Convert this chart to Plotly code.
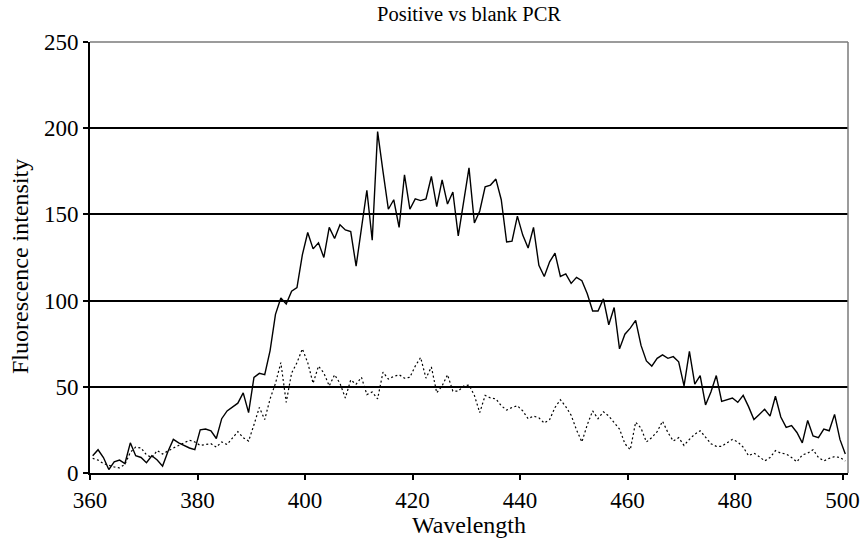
import plotly.graph_objects as go

# Wavelength grid (nm), one reading per nanometre
wavelength = [360.5 + i for i in range(141)]

# Fluorescence of the positive PCR sample
positive = [
    10, 13.5, 9, 2, 6.5, 7.5, 5.5, 17.5, 10, 9,
    6, 10, 7.5, 4, 12.5, 19.5, 17.5, 16, 14.5, 13.5,
    25, 25.5, 24.5, 20, 31.5, 36, 38.5, 40.5, 46.5, 35,
    55.5, 57.8, 57, 71, 92, 101.5, 98, 105.5, 107.5, 126.5,
    139.5, 130, 133.5, 125, 142.5, 136, 144, 141, 140, 120,
    142, 164, 135, 198, 175, 153, 158.5, 142.5, 173, 153,
    159, 158, 159, 172, 154.5, 170, 156, 163, 137.5, 157,
    177, 145, 152, 166, 167, 170.5, 158.5, 134, 134.5, 149,
    138, 130.5, 142.5, 120.5, 114, 122.5, 127.5, 114, 115.5, 110,
    113.5, 111.5, 104, 94, 94, 101, 86, 96, 72, 80.5,
    84, 88.5, 74, 65, 62, 66.5, 68.5, 66.5, 67.5, 64.5,
    50.5, 70.5, 51.5, 56.5, 39.5, 47, 56.5, 41.5, 42.5, 43.5,
    41, 45, 38.5, 31, 34, 37, 33, 44.5, 32.5, 26.5,
    27.5, 23.5, 17.5, 30.5, 21.5, 20.5, 25.5, 24.5, 34, 19.5,
    11,
]

# Fluorescence of the blank (no template) PCR
blank = [
    8.5, 7.5, 5.5, 4.5, 3.5, 3, 5, 12, 15, 14.5,
    10.5, 9, 13, 11, 13, 14.5, 16, 17.5, 19, 18,
    16, 16.5, 17, 15, 18, 16.5, 20.5, 24, 20.5, 18.5,
    28, 38, 31, 43, 52, 64, 41, 58, 64, 72,
    64, 52, 62, 58, 50.5, 57, 52, 43.5, 54, 51.5,
    55.5, 45.5, 47, 43, 58.5, 54.5, 56, 57, 55, 55.5,
    62, 67, 55, 61.5, 46.5, 50.5, 57, 47.5, 47.5, 50.5,
    51, 45, 35, 45, 43.5, 43, 39, 36.5, 38, 39,
    36, 31.5, 33, 32, 29, 31, 38, 42.5, 38.5, 33.5,
    25, 18, 28, 36, 31.5, 35.5, 33, 29, 25.5, 17,
    13.5, 29.5, 26, 18, 20.5, 24, 30, 23.5, 18.5, 20.5,
    16, 19.5, 22.5, 24.5, 21, 17, 15.5, 15.5, 17.5, 19.5,
    18, 15, 10, 11.5, 9.5, 7, 9, 13, 11.5, 11,
    9, 6.5, 10.5, 11.5, 13.5, 9, 7, 8.5, 9.5, 9,
    7,
]

x_ticks = [360, 380, 400, 420, 440, 460, 480, 500]
y_ticks = [0, 50, 100, 150, 200, 250]

SERIF = "Liberation Serif, Times New Roman, serif"

fig = go.Figure()
fig.add_trace(go.Scatter(
    x=wavelength, y=positive, mode="lines", name="Positive",
    line=dict(color="black", width=1.4),
))
fig.add_trace(go.Scatter(
    x=wavelength, y=blank, mode="lines", name="Blank",
    line=dict(color="black", width=1.2, dash="2px,2.5px"),
))

# grey frame on the top and right edges of the plot area
fig.add_shape(type="line", xref="paper", yref="paper", x0=0, x1=1, y0=1, y1=1,
              line=dict(color="#7a7a7a", width=1.5))
fig.add_shape(type="line", xref="paper", yref="paper", x0=1, x1=1, y0=0, y1=1,
              line=dict(color="#7a7a7a", width=1.5))

# vertical axis title, placed as a rotated annotation
fig.add_annotation(
    text="Fluorescence intensity", textangle=-90,
    xref="paper", yref="paper", x=-0.0925, y=0.48,
    xanchor="center", yanchor="middle", showarrow=False,
    font=dict(family=SERIF, size=24, color="black"),
)

fig.update_layout(
    width=862, height=538,
    margin=dict(l=90, r=14, t=42, b=65, autoexpand=False),
    paper_bgcolor="white", plot_bgcolor="white",
    showlegend=False,
    font=dict(family=SERIF, color="black", size=20),
    title=dict(text="Positive vs blank PCR", x=0.5, xref="paper", xanchor="center",
               y=0.975, yref="container", yanchor="middle",
               font=dict(family=SERIF, size=20.5, color="black")),
    xaxis=dict(
        range=[360, 501], tickvals=x_ticks, ticktext=[str(v) for v in x_ticks],
        ticks="outside", ticklen=5, tickwidth=1.5, tickcolor="black",
        showline=True, linecolor="black", linewidth=2,
        showgrid=False, zeroline=False, automargin=False,
        tickfont=dict(family=SERIF, size=23, color="black"),
        title=dict(text="Wavelength", font=dict(family=SERIF, size=24, color="black"),
                   standoff=14),
    ),
    yaxis=dict(
        range=[0, 250], tickvals=y_ticks, ticktext=[str(v) for v in y_ticks],
        ticks="outside", ticklen=5, tickwidth=1.5, tickcolor="black",
        showline=True, linecolor="black", linewidth=2,
        showgrid=True, gridcolor="black", gridwidth=1.6,
        zeroline=False, automargin=False,
        tickfont=dict(family=SERIF, size=23, color="black"),
    ),
)

fig.write_html("out.html")
